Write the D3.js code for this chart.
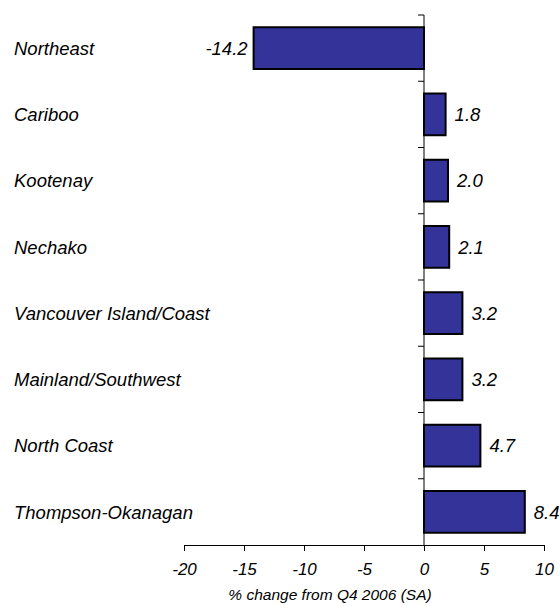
<!DOCTYPE html>
<html>
<head>
<meta charset="utf-8">
<script src="https://cdn.jsdelivr.net/npm/d3@7"></script>
<style>
  body { margin: 0; background: #fff; }
  text { font-family: "Liberation Sans", Arial, sans-serif; font-style: italic; }
</style>
</head>
<body>
<svg id="chart" width="560" height="606"></svg>
<script>
const regions = ['Northeast', 'Cariboo', 'Kootenay', 'Nechako', 'Vancouver Island/Coast',
  'Mainland/Southwest', 'North Coast', 'Thompson-Okanagan']
const changes = [-14.2, 1.8, 2.0, 2.1, 3.2, 3.2, 4.7, 8.4]
const xTicks = [-20, -15, -10, -5, 0, 5, 10]
const axisTitle = '% change from Q4 2006 (SA)'

const color = { bar: '#333399', line: '#000', text: '#000' }

const svg = d3.select('#chart')

const x = d3.scaleLinear().domain([-20, 10]).range([184, 544])
const y = d3.scaleBand().domain(regions).range([15, 545]).paddingInner(0.37).paddingOuter(0.185)

// bars
svg.selectAll('.bar')
  .data(regions)
  .enter()
  .append('rect')
  .attr('class', 'bar')
  .attr('x', (d, i) => x(Math.min(0, changes[i])))
  .attr('y', (d) => y(d))
  .attr('width', (d, i) => Math.abs(x(changes[i]) - x(0)))
  .attr('height', y.bandwidth())
  .attr('fill', color.bar)
  .attr('stroke', color.line)
  .attr('stroke-width', 2)

// value labels
svg.selectAll('.value')
  .data(regions)
  .enter()
  .append('text')
  .attr('class', 'value')
  .attr('x', (d, i) => changes[i] < 0 ? x(changes[i]) - 6 : x(changes[i]) + 9)
  .attr('y', (d) => y(d) + y.bandwidth() / 2)
  .attr('dy', '0.36em')
  .attr('text-anchor', (d, i) => changes[i] < 0 ? 'end' : 'start')
  .style('font-size', '18.5px')
  .text((d, i) => changes[i].toFixed(1))

// category labels
svg.selectAll('.cat')
  .data(regions)
  .enter()
  .append('text')
  .attr('class', 'cat')
  .attr('x', 14)
  .attr('y', (d) => y(d) + y.bandwidth() / 2)
  .attr('dy', '0.36em')
  .style('font-size', '18.5px')
  .text((d) => d)

// zero line with category ticks
const zeroAxis = svg.append('g').attr('transform', `translate(${x(0)},0)`)
zeroAxis.append('line')
  .attr('y1', 15).attr('y2', 545)
  .attr('stroke', color.line)
const bounds = d3.range(regions.length).map((i) => 15 + i * y.step())
zeroAxis.selectAll('.ytick')
  .data(bounds)
  .enter()
  .append('line')
  .attr('x1', -6).attr('x2', 0)
  .attr('y1', (d) => d).attr('y2', (d) => d)
  .attr('stroke', color.line)

// x axis
const xAxis = svg.append('g')
  .attr('transform', 'translate(0,545)')
  .call(d3.axisBottom(x).tickValues(xTicks).tickFormat((d) => String(d))
    .tickSize(6).tickPadding(12).tickSizeOuter(0))
xAxis.select('.domain').attr('stroke', color.line)
xAxis.selectAll('text').style('font-size', '17px').attr('fill', color.text)

svg.append('text')
  .attr('x', 330)
  .attr('y', 600)
  .attr('text-anchor', 'middle')
  .style('font-size', '15.5px')
  .text(axisTitle)
</script>
</body>
</html>
